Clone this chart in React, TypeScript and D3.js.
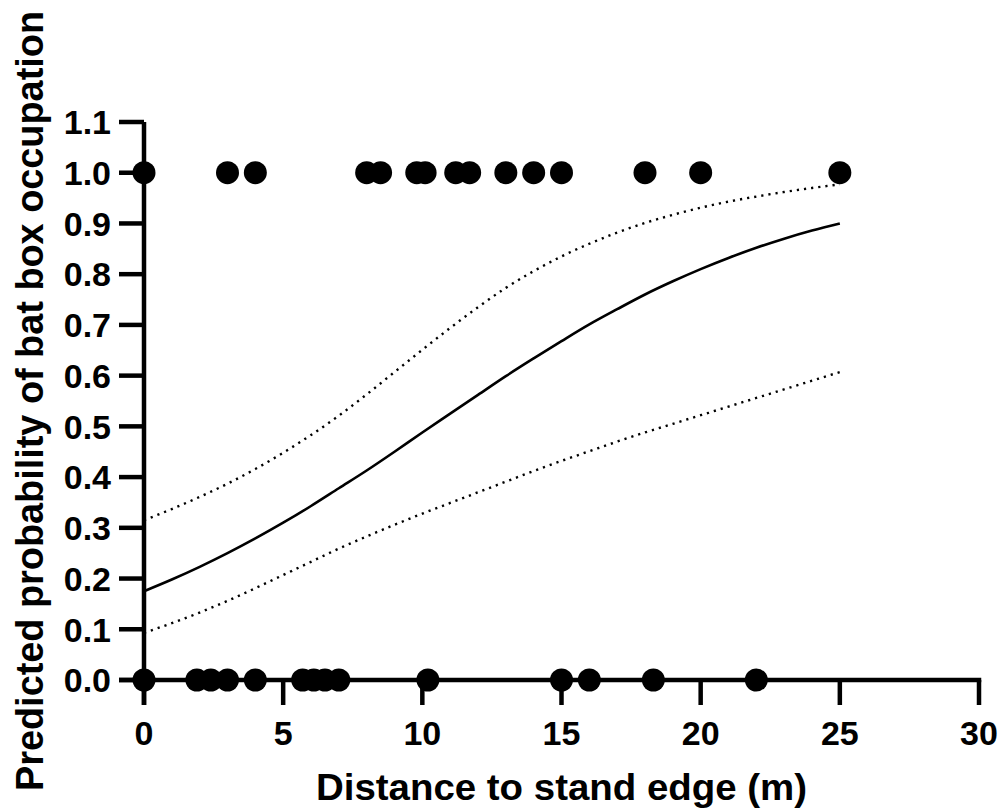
import * as d3 from 'd3'

const width = 1000
const height = 809

// observed boxes: distance (m) where box was occupied (1) or empty (0)
const occupiedX = [0, 3, 4, 8, 8.5, 9.8, 10.1, 11.2, 11.7, 13, 14, 15, 18, 20, 25]
const emptyX = [0, 1.9, 2.4, 3.0, 4.0, 5.7, 6.1, 6.5, 7.0, 10.2, 15, 16, 18.3, 22]

// fitted curve and 95% band at 1 m steps
const curveX = [0, 1, 2, 3, 4, 5, 6, 7, 8, 9, 10, 11, 12, 13, 14, 15, 16, 17, 18, 19, 20, 21, 22, 23, 24, 25]
const fitted = [0.175, 0.198, 0.223, 0.25, 0.279, 0.31, 0.343, 0.378, 0.413, 0.45, 0.488, 0.525, 0.562, 0.599, 0.634, 0.668, 0.701, 0.731, 0.76, 0.786, 0.81, 0.832, 0.852, 0.87, 0.886, 0.9]
const upper = [0.315, 0.337, 0.361, 0.387, 0.416, 0.448, 0.483, 0.521, 0.563, 0.607, 0.651, 0.694, 0.735, 0.773, 0.806, 0.835, 0.86, 0.882, 0.901, 0.917, 0.931, 0.943, 0.953, 0.962, 0.97, 0.977]
const lower = [0.093, 0.112, 0.133, 0.156, 0.181, 0.207, 0.233, 0.259, 0.283, 0.306, 0.328, 0.349, 0.37, 0.391, 0.412, 0.432, 0.451, 0.47, 0.488, 0.505, 0.522, 0.539, 0.556, 0.573, 0.59, 0.607]

const xTicks = [0, 5, 10, 15, 20, 25, 30]
const yTicks = [0, 0.1, 0.2, 0.3, 0.4, 0.5, 0.6, 0.7, 0.8, 0.9, 1.0, 1.1]

const xTitle = 'Distance to stand edge (m)'
const yTitle = 'Predicted probability of bat box occupation'

const font = '"Liberation Sans", Arial, sans-serif'
const tickLen = 25
const axisW = 4.5

export default function App() {
  const x = d3.scaleLinear().domain([0, 30]).range([144, 979])
  const y = d3.scaleLinear().domain([0, 1.1]).range([680, 122])

  const line = (vals: number[]) =>
    d3
      .line<number>()
      .x((_, i) => x(curveX[i]))
      .y((d) => y(d))
      .curve(d3.curveMonotoneX)(vals) as string

  const x0 = x(0)
  const y0 = y(0)

  return (
    <div style={{ position: 'absolute', left: 0, top: 0 }}>
      <svg width={width} height={height} style={{ display: 'block', background: '#fff' }}>
        {/* band */}
        <path d={line(upper)} fill="none" stroke="#000" strokeWidth={2.4} strokeDasharray="2.2 5" />
        <path d={line(lower)} fill="none" stroke="#000" strokeWidth={2.4} strokeDasharray="2.2 5" />
        <path d={line(fitted)} fill="none" stroke="#000" strokeWidth={2.6} />

        {/* axes */}
        <line x1={x0} x2={x0} y1={y(1.1)} y2={y0 + tickLen} stroke="#000" strokeWidth={axisW} />
        <line x1={x0 - tickLen} x2={x(30) + axisW / 2} y1={y0} y2={y0} stroke="#000" strokeWidth={axisW} />
        {xTicks.map((t) => (
          <g key={t} transform={`translate(${x(t)},0)`}>
            <line y1={y0} y2={y0 + tickLen} stroke="#000" strokeWidth={axisW} />
            <text
              y={745}
              textAnchor="middle"
              fontFamily={font}
              fontWeight="bold"
              fontSize={34}
            >
              {t}
            </text>
          </g>
        ))}
        {yTicks.map((t) => (
          <g key={t} transform={`translate(0,${y(t)})`}>
            <line x1={x0 - tickLen} x2={x0} stroke="#000" strokeWidth={axisW} />
            <text
              x={111}
              dy="0.36em"
              textAnchor="end"
              fontFamily={font}
              fontWeight="bold"
              fontSize={34}
            >
              {t.toFixed(1)}
            </text>
          </g>
        ))}

        {/* observations */}
        {occupiedX.map((d, i) => (
          <circle key={'o' + i} cx={x(d)} cy={y(1)} r={11.5} fill="#000" />
        ))}
        {emptyX.map((d, i) => (
          <circle key={'e' + i} cx={x(d)} cy={y(0)} r={11.5} fill="#000" />
        ))}

        {/* titles */}
        <text
          x={(x(0) + x(30)) / 2}
          y={800}
          textAnchor="middle"
          fontFamily={font}
          fontWeight="bold"
          fontSize={36}
          textLength={491}
          lengthAdjust="spacingAndGlyphs"
        >
          {xTitle}
        </text>
        <text
          transform={`translate(43,${(y(0) + y(1.1)) / 2}) rotate(-90)`}
          textAnchor="middle"
          fontFamily={font}
          fontWeight="bold"
          fontSize={38}
          textLength={780}
          lengthAdjust="spacingAndGlyphs"
        >
          {yTitle}
        </text>
      </svg>
    </div>
  )
}
